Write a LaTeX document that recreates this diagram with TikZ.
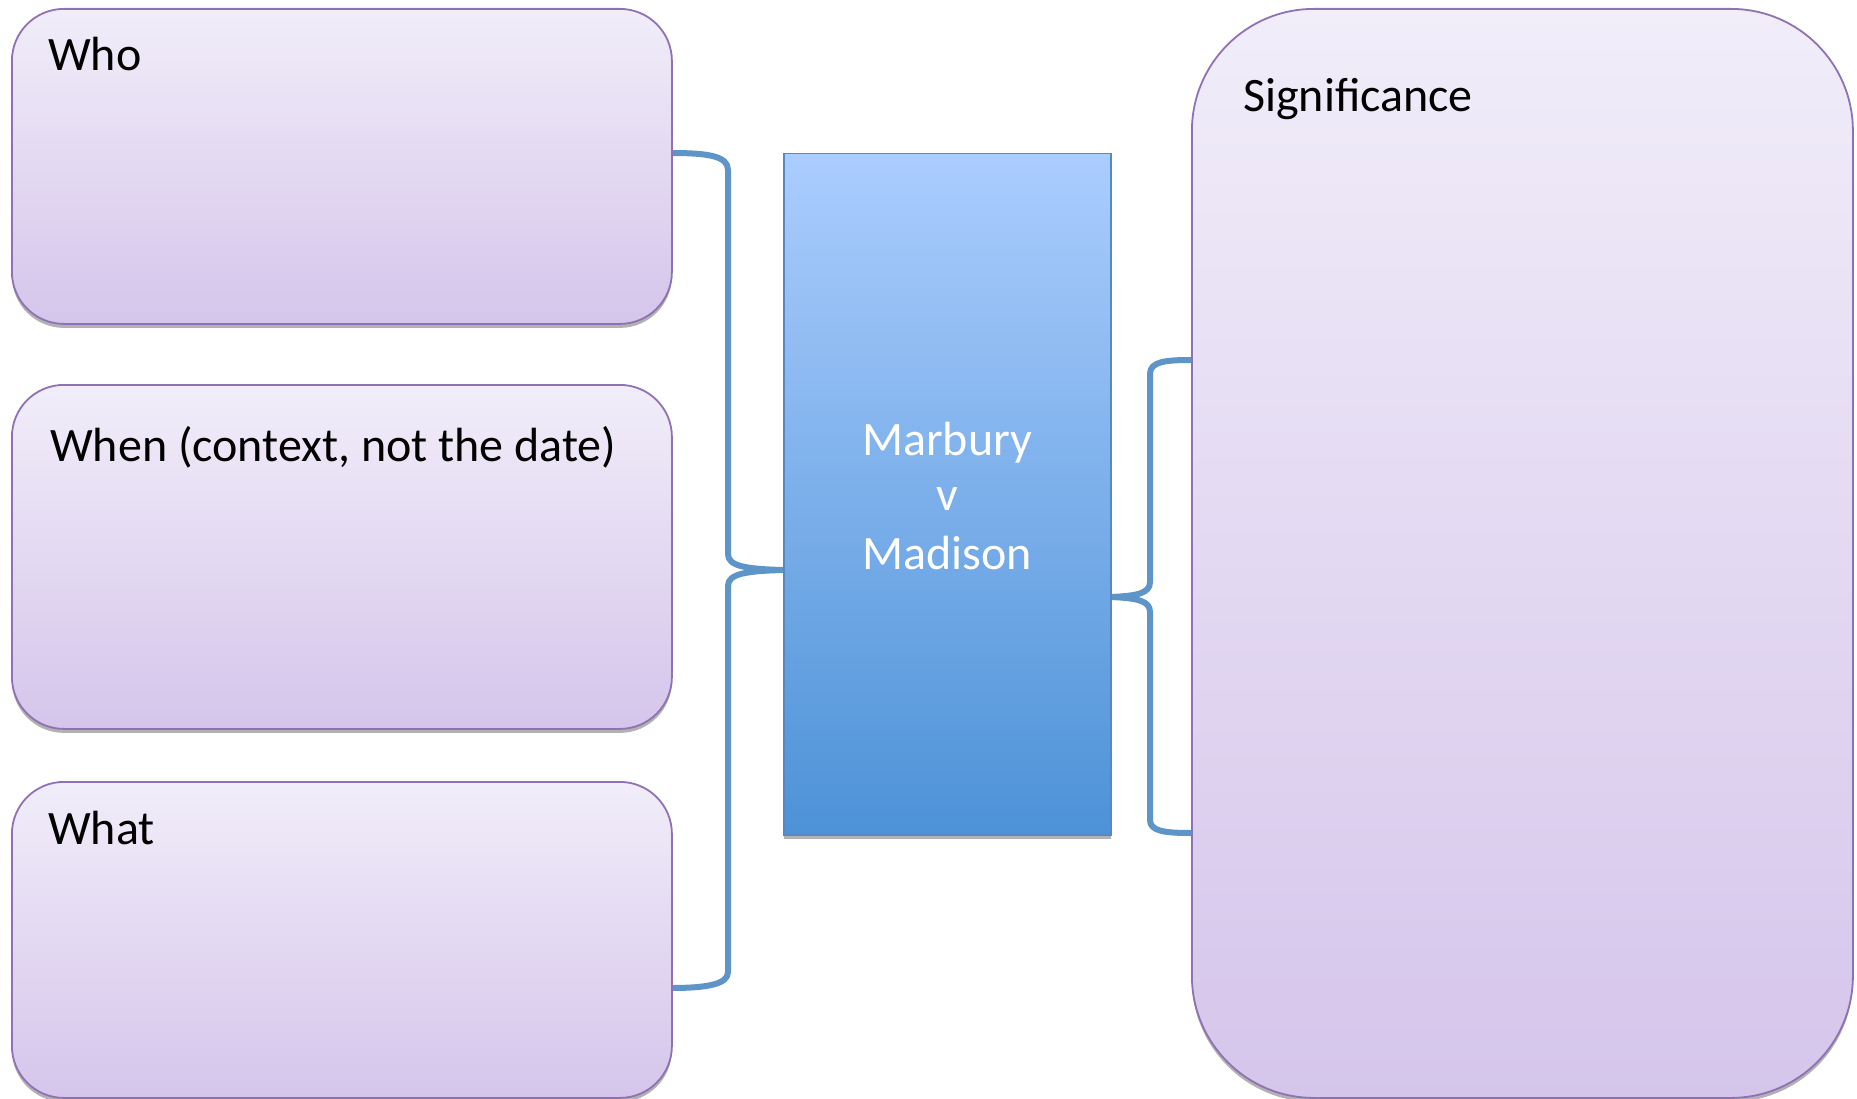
\documentclass[tikz,border=0pt]{standalone}
\usepackage{fontspec}
\setmainfont{Carlito}
\usetikzlibrary{shadows}
\definecolor{boxtop}{HTML}{F1EDF9}
\definecolor{boxbot}{HTML}{D5C5EB}
\definecolor{boxline}{HTML}{8E72B4}
\definecolor{bluetop}{HTML}{ABCDFE}
\definecolor{bluebot}{HTML}{4D92D7}
\definecolor{blueline}{HTML}{5688C4}
\definecolor{bracecol}{HTML}{5E95C8}
\tikzset{
  pbox/.style={draw=boxline, line width=1.8pt, top color=boxtop, bottom color=boxbot,
    rounded corners=52pt, anchor=north west, inner sep=0pt,
    drop shadow={shadow xshift=0pt, shadow yshift=-4pt, opacity=0.3, fill=black}},
  sigbox/.style={pbox, rounded corners=122pt},
  cbox/.style={draw=blueline, line width=1.5pt, top color=bluetop, bottom color=bluebot,
    anchor=north west, inner sep=0pt,
    drop shadow={shadow xshift=0pt, shadow yshift=-4pt, opacity=0.3, fill=black}},
  lbl/.style={font=\fontsize{48}{57}\selectfont, text=black, inner sep=0pt, anchor=base west},
  clbl/.style={font=\fontsize{48}{57}\selectfont, text=white, inner sep=0pt, anchor=base},
  brace/.style={draw=bracecol, line width=6pt, line join=round, line cap=round},
}
\begin{document}
\begin{tikzpicture}[x=1pt, y=-1pt]
\useasboundingbox (0,0) rectangle (1857,1099);
\fill[white] (0,0) rectangle (1857,1099);
% connector attach points
\coordinate (wa) at (671,153);
\coordinate (ha) at (671,988);
\coordinate (lt) at (783,570);
\coordinate (rt) at (1110,597);
\coordinate (sa) at (1191,360);
\coordinate (sb) at (1191,833);
% braces
\draw[brace] (wa) .. controls (708,153) and (728,156) .. (728,170) -- (728,554)
  .. controls (728,566) and (745,569) .. (lt)
  .. controls (745,571) and (728,574) .. (728,586) -- (728,972)
  .. controls (728,984) and (708,988) .. (ha);
\draw[brace] (sa) .. controls (1164,360) and (1150,362) .. (1150,374) -- (1150,582)
  .. controls (1150,593) and (1138,596) .. (rt)
  .. controls (1138,598) and (1150,601) .. (1150,612) -- (1150,820)
  .. controls (1150,831) and (1164,833) .. (sb);
% boxes
\node[pbox, minimum width=660pt, minimum height=315pt] (who) at (11,8) {};
\node[pbox, minimum width=660pt, minimum height=344pt] (when) at (11,384) {};
\node[pbox, minimum width=660pt, minimum height=316pt] (what) at (11,781) {};
\node[sigbox, minimum width=661pt, minimum height=1089pt] (sig) at (1191,8) {};
\node[cbox, minimum width=327pt, minimum height=681pt] (case) at (783,153) {};
% labels
\node[lbl] (whot) at (48,71) {Who};
\node[lbl] (whent) at (50,461) {When (context, not the date)};
\node[lbl] (whatt) at (48,844) {What};
\node[lbl] (sigt) at (1243,112) {Significance};
\node[clbl] (m1) at (947,455) {Marbury};
\node[clbl] (m2) at (947,510) {v};
\node[clbl] (m3) at (947,569) {Madison};
\end{tikzpicture}
\end{document}
